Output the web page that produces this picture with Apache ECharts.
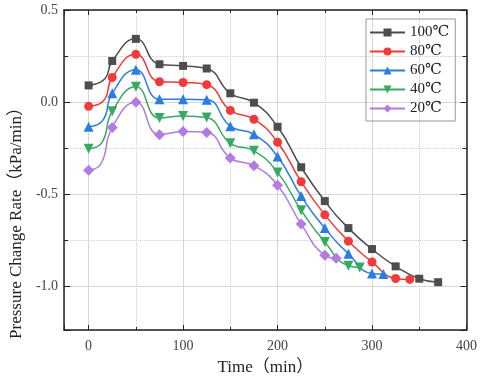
<!DOCTYPE html>
<html>
<head>
<meta charset="utf-8">
<script src="https://cdn.jsdelivr.net/npm/echarts@6/dist/echarts.min.js"></script>
<style>
  html, body { margin: 0; padding: 0; background: #fff; }
  #chart { width: 480px; height: 381px; }
</style>
</head>
<body>
<div id="chart"></div>
<script>
// 时间 (min) 和压力变化率 (kPa/min)，每条曲线各一组
var time100 = [0, 17, 25, 50, 75, 100, 125, 150, 175, 200, 225, 250, 275, 300, 325, 350, 370]
var rate100 = [0.09, 0.125, 0.223, 0.343, 0.205, 0.196, 0.182, 0.047, -0.004, -0.135, -0.355, -0.539, -0.686, -0.80, -0.894, -0.961, -0.98]

var time80 = [0, 16, 25, 50, 75, 100, 125, 150, 175, 200, 225, 250, 275, 300, 325, 340]
var rate80 = [-0.024, 0.008, 0.133, 0.259, 0.110, 0.106, 0.094, -0.046, -0.094, -0.219, -0.434, -0.614, -0.757, -0.870, -0.96, -0.965]

var time60 = [0, 15, 25, 50, 75, 100, 125, 150, 175, 200, 225, 250, 275, 300, 312]
var rate60 = [-0.135, -0.10, 0.047, 0.175, 0.015, 0.015, 0.012, -0.132, -0.176, -0.297, -0.512, -0.686, -0.825, -0.933, -0.936]

var time40 = [0, 14, 25, 50, 75, 100, 125, 150, 175, 200, 225, 250, 275, 287]
var rate40 = [-0.255, -0.221, -0.051, 0.082, -0.087, -0.076, -0.085, -0.225, -0.266, -0.383, -0.589, -0.762, -0.891, -0.90]

var time20 = [0, 13, 25, 50, 75, 100, 125, 150, 175, 200, 225, 250, 262]
var rate20 = [-0.372, -0.336, -0.139, -0.001, -0.178, -0.160, -0.166, -0.305, -0.347, -0.453, -0.664, -0.834, -0.85]

var names = ['100℃', '80℃', '60℃', '40℃', '20℃']
var bendIndex = 1 // 折点，不画标记

var serif = '"Liberation Serif", "DejaVu Serif", "Noto Sans CJK SC", serif'

function pairs(t, r) {
  var out = []
  for (var i = 0; i < t.length; i++) {
    if (i === bendIndex) {
      out.push({ value: [t[i], r[i]], symbol: 'none' })
    } else {
      out.push([t[i], r[i]])
    }
  }
  return out
}

function makeSeries(name, t, r, color, symbol, size, rotate) {
  return {
    name: name,
    type: 'line',
    smooth: 0.5,
    data: pairs(t, r),
    symbol: symbol,
    symbolSize: size,
    symbolRotate: rotate || 0,
    showAllSymbol: true,
    lineStyle: { color: color, width: 1.5 },
    itemStyle: { color: color },
    emphasis: { disabled: true }
  }
}

var frameX = {
  type: 'value',
  min: -26,
  max: 400,
  minInterval: 100,
  maxInterval: 100,
  axisLine: { show: true, onZero: false, lineStyle: { color: '#222', width: 1.5 } },
  axisTick: { show: true, inside: true, length: 5, lineStyle: { color: '#222' } },
  minorTick: { show: true, splitNumber: 2, length: 3, lineStyle: { color: '#222' } },
  splitLine: { show: false },
  axisLabel: { show: false }
}

var frameY = {
  type: 'value',
  min: -1.24,
  max: 0.5,
  minInterval: 0.5,
  maxInterval: 0.5,
  axisLine: { show: true, onZero: false, lineStyle: { color: '#222', width: 1.5 } },
  axisTick: { show: true, inside: true, length: 6, lineStyle: { color: '#222' } },
  minorTick: { show: true, splitNumber: 2, length: 4, lineStyle: { color: '#222' } },
  splitLine: { show: false },
  axisLabel: { show: false }
}

var chart = echarts.init(document.getElementById('chart'))

chart.setOption({
  backgroundColor: '#fff',
  animation: false,
  grid: { left: 63, right: 13, top: 10, bottom: 47 },
  legend: {
    orient: 'vertical',
    left: 366,
    top: 19,
    data: names,
    borderColor: '#999',
    borderWidth: 1,
    padding: [6, 6, 5, 3],
    itemGap: 4,
    itemWidth: 35,
    itemHeight: 10,
    textStyle: { fontFamily: serif, fontSize: 15, color: '#222', lineHeight: 14.5 }
  },
  xAxis: [
    Object.assign({}, frameX, {
      position: 'bottom',
      name: 'Time（min）',
      nameLocation: 'middle',
      nameGap: 29,
      nameTextStyle: { fontFamily: serif, fontSize: 17, color: '#222' },
      axisLabel: {
        show: true,
        margin: 9,
        showMinLabel: false,
        fontFamily: serif,
        fontSize: 14,
        color: '#444'
      },
      // 主网格线
      splitLine: { show: true, lineStyle: { color: '#d6d6d6', width: 1, type: 'solid' } },
      // 次网格线
      minorSplitLine: { show: true, lineStyle: { color: '#cfcfcf', width: 1, type: 'dotted' } }
    }),
    Object.assign({}, frameX, { position: 'top' })
  ],
  yAxis: [
    Object.assign({}, frameY, {
      position: 'left',
      name: 'Pressure Change Rate（kPa/min）',
      nameLocation: 'middle',
      nameGap: 37,
      nameTextStyle: { fontFamily: serif, fontSize: 17, color: '#222', padding: [0, 98, 0, 0] },
      axisLabel: {
        show: true,
        margin: 6,
        showMinLabel: false,
        fontFamily: serif,
        fontSize: 14,
        color: '#444',
        formatter: function (v) { return v.toFixed(1) }
      },
      splitLine: { show: true, lineStyle: { color: '#d6d6d6', width: 1, type: 'solid' } },
      minorSplitLine: { show: true, lineStyle: { color: '#cfcfcf', width: 1, type: 'dotted' } }
    }),
    Object.assign({}, frameY, { position: 'right' })
  ],
  series: [
    makeSeries(names[0], time100, rate100, '#4d4d4d', 'rect', 8),
    makeSeries(names[1], time80, rate80, '#ef3b3b', 'circle', 9),
    makeSeries(names[2], time60, rate60, '#2a7de1', 'triangle', 10),
    makeSeries(names[3], time40, rate40, '#35aa62', 'triangle', 10, 180),
    makeSeries(names[4], time20, rate20, '#b27be3', 'diamond', 11)
  ]
})

window.addEventListener('resize', function () {
  chart.resize()
})
</script>
</body>
</html>
